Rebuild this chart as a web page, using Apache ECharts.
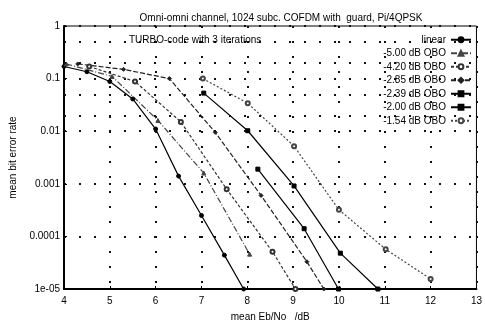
<!DOCTYPE html>
<html style="height: 100%">
<head>
<meta charset="utf-8">
</head>
<body style="height: 100%; margin: 0; background: #fff">
<div id="container" style="width: 485px; height: 327px"></div>
<script type="text/javascript" src="https://cdn.jsdelivr.net/npm/echarts@6/dist/echarts.min.js"></script>
<script type="text/javascript">
// curves: [mean Eb/No (dB), mean bit error rate]
var linearPts = [[4, 0.17], [4.5, 0.135], [5, 0.088], [5.5, 0.041], [6, 0.011], [6.5, 0.0014], [7, 0.00025], [7.5, 0.000044], [7.92, 0.00001]];
var obo500Pts = [[4.05, 0.19], [5.05, 0.11], [6.05, 0.016], [7.05, 0.0016], [8.05, 0.000046]];
var obo420Pts = [[4.55, 0.17], [5.55, 0.088], [6.55, 0.015], [7.55, 0.00079], [8.55, 0.000051], [9.05, 0.00001]];
var obo285Pts = [[4.3, 0.19], [5.3, 0.15], [6.3, 0.10], [7.3, 0.0095], [8.3, 0.0006], [9.3, 0.000033], [9.67, 0.00001]];
var obo239Pts = [[8.23, 0.0019], [9.24, 0.00014], [9.99, 0.00001]];
var obo200Pts = [[7.05, 0.053], [8.01, 0.0102], [9.02, 0.00091], [10.03, 0.000048], [10.85, 0.00001]];
var obo154Pts = [[7.03, 0.1], [8.01, 0.034], [9.02, 0.0052], [10.0, 0.00032], [11.02, 0.000057], [12.0, 0.0000155]];

var seriesNames = ['linear', '-5.00 dB OBO', '-4.20 dB OBO', '-2.85 dB OBO', '-2.39 dB OBO', '-2.00 dB OBO', '-1.54 dB OBO'];
var yTickLabels = ['1e-05', '0.0001', '0.001', '0.01', '0.1', '1'];
// dotted helper rows at 2 and 5 of each decade
var minorRows = [2e-5, 5e-5, 2e-4, 5e-4, 2e-3, 5e-3, 2e-2, 5e-2, 0.2, 0.5];

var dom = document.getElementById("container");
var myChart = echarts.init(dom);

var dotted = {color: '#111', type: [2, 13], width: 2};

function curve(name, pts, symbol, dash, color) {
    return {
        name: name,
        type: 'line',
        data: pts,
        symbol: symbol,
        symbolSize: 4,
        clip: true,
        z: 3,
        itemStyle: {color: color, borderColor: color, borderWidth: 1},
        lineStyle: {color: color, width: 1.2, type: dash}
    };
}

var seriesList = [
    curve(seriesNames[0], linearPts, 'circle', 'solid', '#000'),
    curve(seriesNames[1], obo500Pts, 'triangle', [6, 2, 1, 2], '#444'),
    curve(seriesNames[2], obo420Pts, 'emptyCircle', [3, 2], '#333'),
    curve(seriesNames[3], obo285Pts, 'diamond', [5, 2], '#222'),
    curve(seriesNames[4], obo239Pts, 'rect', 'solid', '#000'),
    curve(seriesNames[5], obo200Pts, 'rect', 'solid', '#000'),
    curve(seriesNames[6], obo154Pts, 'emptyCircle', [2, 2], '#444')
];
seriesList[0].markLine = {
    silent: true,
    symbol: 'none',
    label: {show: false},
    animation: false,
    lineStyle: dotted,
    emphasis: {disabled: true},
    data: minorRows.map(function (v) { return {yAxis: v}; })
};

var option = {
    animation: false,
    textStyle: {fontFamily: 'Liberation Sans', color: '#000'},
    title: [{
        text: 'Omni-omni channel, 1024 subc. COFDM with  guard, Pi/4QPSK',
        left: 276, top: 8, textAlign: 'center',
        textStyle: {fontSize: 10, fontWeight: 'normal', color: '#000'}
    }, {
        text: 'TURBO-code with 3 iterations',
        left: 124, top: 30,
        textStyle: {fontSize: 10, fontWeight: 'normal', color: '#000'}
    }],
    legend: {
        data: seriesNames,
        orient: 'vertical',
        right: 8,
        top: 29,
        align: 'right',
        itemWidth: 20,
        itemHeight: 6,
        itemGap: 2,
        textStyle: {fontSize: 10, width: 80, align: 'right', lineHeight: 11.5, color: '#000'}
    },
    grid: {left: 62, right: 5, top: 26, bottom: 36, show: true, borderColor: '#000', borderWidth: 1},
    xAxis: {
        type: 'value',
        min: 4, max: 13, interval: 1,
        name: 'mean Eb/No   /dB',
        nameLocation: 'middle',
        nameGap: 23,
        nameTextStyle: {fontSize: 10},
        axisLine: {lineStyle: {color: '#000', width: 2}},
        axisTick: {inside: true, length: 3, lineStyle: {color: '#000'}},
        axisLabel: {fontSize: 10, color: '#000', margin: 7},
        splitLine: {show: true, lineStyle: dotted}
    },
    yAxis: {
        type: 'log',
        logBase: 10,
        min: 1e-5, max: 1,
        name: 'mean bit error rate',
        nameLocation: 'middle',
        nameGap: 46,
        nameTextStyle: {fontSize: 10},
        axisLine: {lineStyle: {color: '#000', width: 2}},
        axisTick: {inside: true, length: 3, lineStyle: {color: '#000'}},
        axisLabel: {
            fontSize: 10, color: '#000', margin: 4,
            formatter: function (v) {
                return yTickLabels[Math.round(Math.log10(v)) + 5];
            }
        },
        splitLine: {show: true, lineStyle: dotted}
    },
    series: seriesList
};

myChart.setOption(option);
</script>
</body>
</html>
